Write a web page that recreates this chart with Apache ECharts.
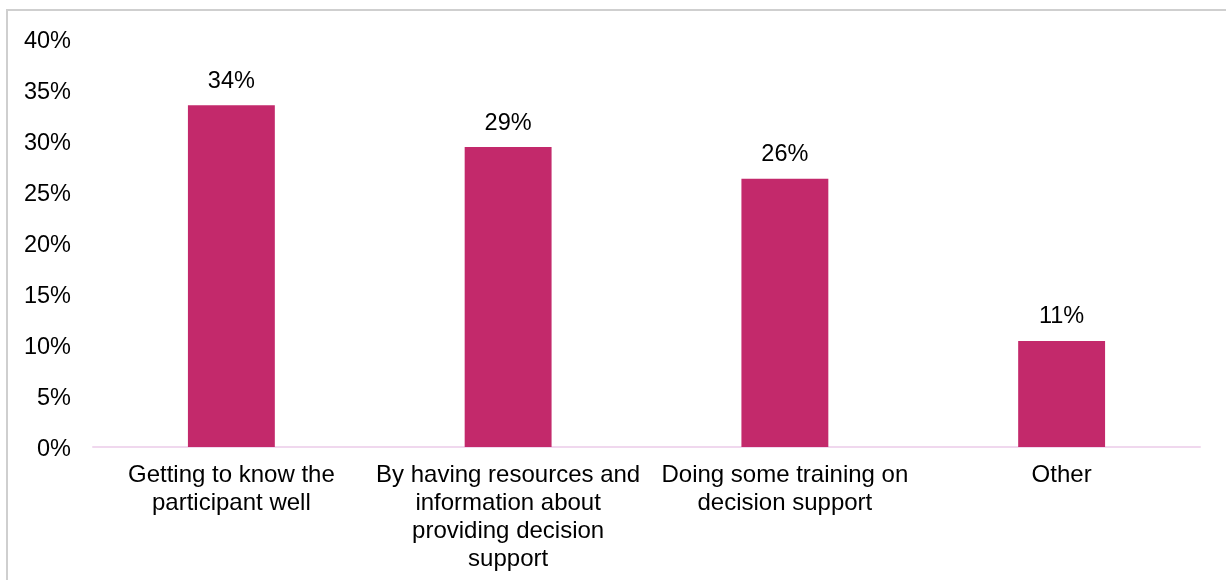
<!DOCTYPE html>
<html>
<head>
<meta charset="utf-8">
<script src="https://cdn.jsdelivr.net/npm/echarts@6/dist/echarts.min.js"></script>
<style>
html,body{margin:0;padding:0;background:#fff;}
#frame{position:absolute;left:6px;top:9px;width:1240px;height:600px;border-left:2px solid #cfcfcf;border-top:2px solid #cfcfcf;box-sizing:border-box;}
#chart{position:absolute;left:0;top:0;width:1226px;height:580px;}
</style>
</head>
<body>
<div id="frame"></div>
<div id="chart"></div>
<script>
const categories = [
  "Getting to know the\nparticipant well",
  "By having resources and\ninformation about\nproviding decision\nsupport",
  "Doing some training on\ndecision support",
  "Other"
];
const values = [33.5, 29.4, 26.3, 10.4];
const labels = ["34%", "29%", "26%", "11%"];
const yTicks = [0, 5, 10, 15, 20, 25, 30, 35, 40];

const chart = echarts.init(document.getElementById('chart'), null, {renderer: 'canvas'});
const font = 'Liberation Sans, Arial, sans-serif';
chart.setOption({
  animation: false,
  backgroundColor: 'transparent',
  grid: {left: 93, right: 26, top: 39, bottom: 133, containLabel: false},
  xAxis: {
    type: 'category',
    data: categories,
    axisLine: {show: true, lineStyle: {color: '#F0D8EE', width: 2}},
    axisTick: {show: false},
    axisLabel: {color: '#000', fontFamily: font, fontSize: 24, lineHeight: 27.7, margin: 15, interval: 0}
  },
  yAxis: {
    type: 'value',
    min: yTicks[0],
    max: yTicks[yTicks.length - 1],
    interval: 5,
    splitLine: {show: false},
    axisLine: {show: false},
    axisTick: {show: false},
    axisLabel: {color: '#000', fontFamily: font, fontSize: 23.5, margin: 22, verticalAlign: 'top', lineHeight: 5, formatter: v => v + '%'}
  },
  series: [{
    type: 'bar',
    data: values,
    barWidth: '31.4%',
    itemStyle: {color: '#C3296B'},
    label: {
      show: true,
      position: 'top',
      distance: 12,
      color: '#000',
      fontFamily: font,
      fontSize: 23.5,
      formatter: p => labels[p.dataIndex]
    }
  }]
});
</script>
</body>
</html>
